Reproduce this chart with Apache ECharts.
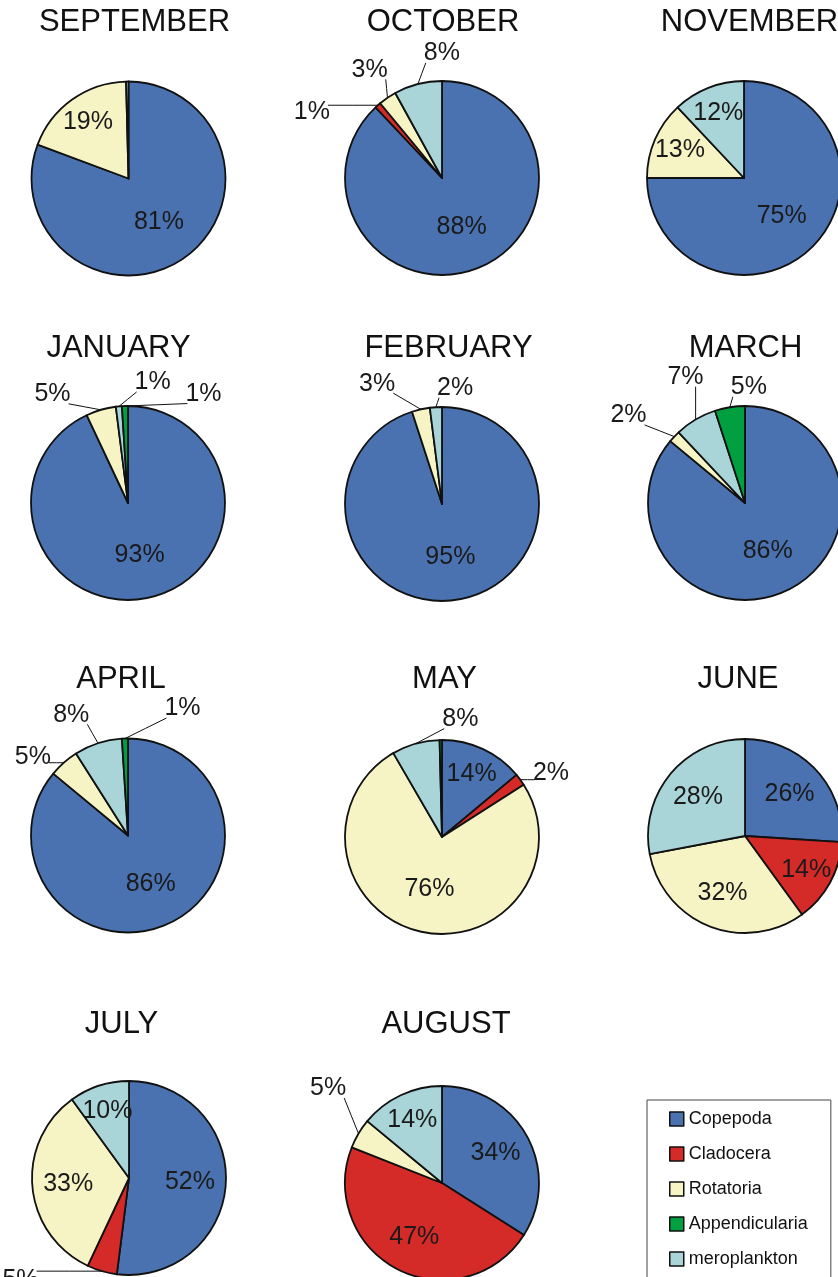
<!DOCTYPE html>
<html>
<head>
<meta charset="utf-8">
<script src="https://cdn.jsdelivr.net/npm/echarts@6/dist/echarts.min.js"></script>
<style>
  html, body { margin: 0; padding: 0; background: #fff; }
  #chart { width: 838px; height: 1277px; }
</style>
</head>
<body>
<div id="chart"></div>
<script>
  // 月份 (顺序同原图)
  var months = ['SEPTEMBER', 'OCTOBER', 'NOVEMBER', 'JANUARY', 'FEBRUARY', 'MARCH',
                'APRIL', 'MAY', 'JUNE', 'JULY', 'AUGUST'];
  var groups = ['Copepoda', 'Cladocera', 'Rotatoria', 'Appendicularia', 'meroplankton'];

  // 百分比
  var copepoda       = [81, 88, 75, 93, 95, 86, 86, 14, 26, 52, 34];
  var cladocera      = [0, 1, 0, 0, 0, 0, 0, 2, 14, 5, 47];
  var rotatoria      = [19, 3, 13, 5, 3, 2, 5, 76, 32, 33, 5];
  var appendicularia = [0, 0, 0, 1, 0, 5, 1, 0.4, 0, 0, 0];
  var meroplankton   = [0.4, 8, 12, 1, 2, 7, 8, 8, 28, 10, 14];

  var colors = {
    Copepoda: '#4A72B0',
    Cladocera: '#D42A28',
    Rotatoria: '#F6F4C4',
    Appendicularia: '#00A040',
    meroplankton: '#A9D4D8'
  };

  // 布局
  var R = 97;
  var pieX = [128.5, 442, 744, 128, 442, 745, 128, 442, 745, 129, 442];
  var pieY = [178.5, 178, 178, 503, 504, 503, 835.5, 837, 836, 1178, 1183];
  var titleX = [134.5, 443, 749.5, 118.5, 448.5, 745.5, 121, 444.5, 738, 121.5, 446];
  var titleY = [21, 21, 21, 347, 347, 347, 678, 678, 678, 1023.5, 1023.5];

  // 外部标签微调
  var nudge = {
    'OCTOBER.Cladocera': [-25, 16], 'OCTOBER.Rotatoria': [22, -18], 'OCTOBER.meroplankton': [60, -19],
    'JANUARY.Rotatoria': [-12, -4], 'JANUARY.meroplankton': [68, -12], 'JANUARY.Appendicularia': [112, 0],
    'FEBRUARY.Rotatoria': [-8, -14], 'FEBRUARY.meroplankton': [53, -7],
    'MARCH.Rotatoria': [-4, -13], 'MARCH.meroplankton': [29, -32], 'MARCH.Appendicularia': [54, -8],
    'APRIL.Rotatoria': [10, 3], 'APRIL.meroplankton': [10, -17], 'APRIL.Appendicularia': [91, -18],
    'MAY.Cladocera': [-12, 1], 'MAY.meroplankton': [81, -13],
    'JULY.Cladocera': [-45, -3],
    'AUGUST.Rotatoria': [13, -39]
  };

  var font = "'Liberation Sans', Arial, sans-serif";

  function insideFactor(v) {
    if (v >= 60) return 0.55;
    if (v >= 20) return 0.63;
    return 0.72;
  }

  function clamp(v, a, b) { return Math.max(a, Math.min(b, v)); }

  var titles = [];
  var series = [];

  months.forEach(function (m, i) {
    titles.push({
      text: m,
      left: titleX[i],
      top: titleY[i] - 14.5,
      textAlign: 'center',
      padding: 0,
      textStyle: { fontSize: 31, fontWeight: 'normal', color: '#111', fontFamily: font }
    });

    // 顺时针顺序: Copepoda, Cladocera, Rotatoria, meroplankton, Appendicularia
    var order = [
      ['Copepoda', copepoda[i]],
      ['Cladocera', cladocera[i]],
      ['Rotatoria', rotatoria[i]],
      ['meroplankton', meroplankton[i]],
      ['Appendicularia', appendicularia[i]]
    ];
    var items = [];
    order.forEach(function (o) {
      if (o[1] <= 0) return;
      var it = { name: o[0], value: o[1], itemStyle: { color: colors[o[0]] } };
      if (o[1] < 1) {
        it.label = { show: false };
        it.labelLine = { show: false };
      } else if (o[1] < 9) {
        it.label = { position: 'outside' };
        it.labelLine = { show: true };
      }
      items.push(it);
    });

    var cx = pieX[i], cy = pieY[i];
    series.push({
      type: 'pie',
      name: m,
      center: [cx, cy],
      radius: R,
      startAngle: 90,
      clockwise: true,
      avoidLabelOverlap: false,
      animation: false,
      silent: true,
      emphasis: { disabled: true },
      itemStyle: { borderColor: '#111', borderWidth: 1.8 },
      label: {
        show: true,
        position: 'inside',
        formatter: function (p) { return p.value + '%'; },
        fontSize: 25,
        color: '#1a1a1a',
        fontFamily: font,
        distanceToLabelLine: 3
      },
      labelLine: {
        show: true,
        length: 12,
        length2: 12,
        lineStyle: { color: '#111', width: 1 }
      },
      labelLayout: function (p) {
        var it = items[p.dataIndex];
        if (!it) return {};
        var r = p.labelRect;
        var lx = r.x + r.width / 2;
        var ly = r.y + r.height / 2;
        if (it.value >= 9) {
          var vx = lx - cx, vy = ly - cy;
          var d = Math.sqrt(vx * vx + vy * vy) || 1;
          var k = R * insideFactor(it.value) / d - 1;
          return { dx: vx * k, dy: vy * k };
        }
        var n = nudge[m + '.' + it.name] || [0, 0];
        var out = { dx: n[0], dy: n[1] };
        if (p.labelLinePoints && p.labelLinePoints.length) {
          // 从扇区边缘连到移动后的标签
          var p0 = p.labelLinePoints[0];
          var x0 = r.x + n[0] + 2, x1 = r.x + n[0] + r.width - 2;
          var y0 = r.y + n[1] + 3, y1 = r.y + n[1] + r.height - 3;
          var ex = clamp(p0[0], x0, x1), ey = clamp(p0[1], y0, y1);
          out.labelLinePoints = [p0, [(p0[0] + ex) / 2, (p0[1] + ey) / 2], [ex, ey]];
        }
        return out;
      },
      data: items
    });
  });

  var chart = echarts.init(document.getElementById('chart'));
  chart.setOption({
    backgroundColor: '#fff',
    title: titles,
    legend: {
      data: groups,
      orient: 'vertical',
      left: 647,
      top: 1100,
      height: 240,
      padding: [10, 23, 40, 22],
      itemWidth: 14,
      itemHeight: 14,
      itemGap: 17,
      icon: 'rect',
      borderColor: '#444',
      borderWidth: 1,
      selectedMode: false,
      itemStyle: { borderColor: '#111', borderWidth: 1.5 },
      textStyle: { fontSize: 18, color: '#111', fontFamily: font }
    },
    series: series
  });
</script>
</body>
</html>
